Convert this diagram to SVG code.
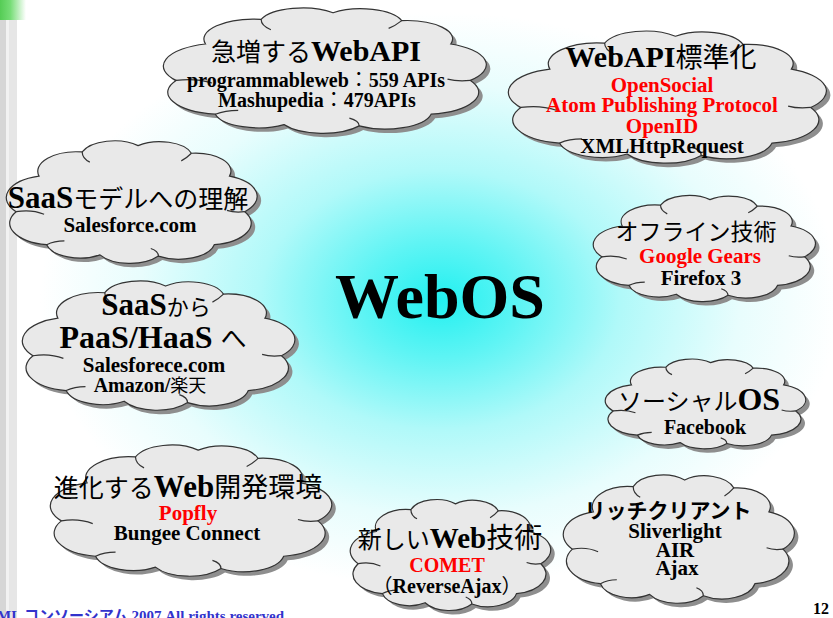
<svg xmlns="http://www.w3.org/2000/svg" xmlns:xlink="http://www.w3.org/1999/xlink" width="833" height="618" viewBox="0 0 833 618">
<style>
svg{font-size:21px}
.sh{fill:#8e8e8e;stroke:none}
.cl{fill:#e9e9e9;stroke:#333;stroke-width:1.2}
.ci{fill:none;stroke:#333;stroke-width:1.2}
text{font-family:"Liberation Serif","Times New Roman",serif;font-weight:bold;fill:#000;text-anchor:middle}
.jp{font-family:"Noto Sans CJK JP","Noto Sans CJK SC",sans-serif;font-weight:normal}
.jb{font-family:"Noto Sans CJK JP","Noto Sans CJK SC",sans-serif;font-weight:bold}
.r{fill:#ff0000}
text.ft{fill:#3333cc;text-anchor:start}
</style>
<defs>
<radialGradient id="bg" gradientUnits="userSpaceOnUse" cx="440" cy="300" r="400" gradientTransform="translate(440 300) scale(1 0.72) translate(-440 -300)">
<stop offset="0" stop-color="#22f0f0"/>
<stop offset="0.2" stop-color="#5ef4f4"/>
<stop offset="0.45" stop-color="#b0f9f9"/>
<stop offset="0.75" stop-color="#e8fdfd"/>
<stop offset="1" stop-color="#ffffff"/>
</radialGradient>
<linearGradient id="gr" x1="0" y1="0" x2="1" y2="0">
<stop offset="0" stop-color="#55cc55"/>
<stop offset="0.4" stop-color="#77dd77"/>
<stop offset="1" stop-color="#ffffff"/>
</linearGradient>
<path id="cb" vector-effect="non-scaling-stroke" d="M4,58 A17.6,17.6 0 0 1 13,30 A15.3,15.3 0 0 1 30,11 A13.5,13.5 0 0 1 52,6 A13.1,13.1 0 0 1 73,12 A14.1,14.1 0 0 1 88,30 A17.2,17.2 0 0 1 94,58 A17.2,17.2 0 0 1 82,84 A14.3,14.3 0 0 1 60,93 A13.8,13.8 0 0 1 37,92 A13.5,13.5 0 0 1 16,84 A17.2,17.2 0 0 1 4,58 Z"/>
<path id="ci" vector-effect="non-scaling-stroke" d="M4,58 Q10,56 15,60 M30,11 Q30,16 33,19 M73,12 Q71,16 69,18 M94,58 Q90,59 87,57 M60,93 Q60,89 57,87 M16,84 Q19,81 23,81"/>
</defs>
<rect x="0" y="0" width="833" height="618" fill="#ffffff"/>
<rect x="0" y="0" width="833" height="618" fill="url(#bg)"/>
<rect x="0" y="0" width="26" height="20" fill="url(#gr)"/>
<rect x="0" y="20" width="6" height="598" fill="#d6d6d6"/>
<rect x="6" y="20" width="3" height="598" fill="#f2f2f2"/>
<rect x="9" y="20" width="8" height="598" fill="#e6e6e6"/>

<g id="connectors"></g>

<g id="n-webapi">
<use href="#cb" class="sh" transform="translate(167,9) scale(3.27,1.3)"/>
<use href="#cb" class="cl" transform="translate(163,5) scale(3.27,1.3)"/>
<use href="#ci" class="ci" transform="translate(163,5) scale(3.27,1.3)"/>
<text x="316" y="61"><tspan class="jp" font-size="25">急増する</tspan><tspan font-size="30">WebAPI</tspan></text>
<text x="316" y="87" font-size="20">programmableweb<tspan class="jp">：</tspan>559 APIs</text>
<text x="317" y="107" font-size="20">Mashupedia<tspan class="jp">：</tspan>479APIs</text>
</g>

<g id="n-std">
<use href="#cb" class="sh" transform="translate(512,32) scale(3.22,1.37)"/>
<use href="#cb" class="cl" transform="translate(508,28) scale(3.22,1.37)"/>
<use href="#ci" class="ci" transform="translate(508,28) scale(3.22,1.37)"/>
<text x="661" y="67"><tspan font-size="30">WebAPI</tspan><tspan class="jp" font-size="27">標準化</tspan></text>
<text x="662" y="92" class="r">OpenSocial</text>
<text x="662" y="112" class="r">Atom Publishing Protocol</text>
<text x="662" y="133" class="r">OpenID</text>
<text x="662" y="153">XMLHttpRequest</text>
</g>

<g id="n-saas">
<use href="#cb" class="sh" transform="translate(10,142) scale(2.54,1.27)"/>
<use href="#cb" class="cl" transform="translate(6,138) scale(2.54,1.27)"/>
<use href="#ci" class="ci" transform="translate(6,138) scale(2.54,1.27)"/>
<text x="128" y="208"><tspan font-size="31">SaaS</tspan><tspan class="jp" font-size="25">モデルへの理解</tspan></text>
<text x="130" y="232">Salesforce.com</text>
</g>

<g id="n-paas">
<use href="#cb" class="sh" transform="translate(26,282) scale(2.76,1.34)"/>
<use href="#cb" class="cl" transform="translate(22,278) scale(2.76,1.34)"/>
<use href="#ci" class="ci" transform="translate(22,278) scale(2.76,1.34)"/>
<text x="156" y="315"><tspan font-size="31">SaaS</tspan><tspan class="jp" font-size="22">から</tspan></text>
<text x="153" y="348"><tspan font-size="32">PaaS/HaaS </tspan><tspan class="jp" font-size="26">へ</tspan></text>
<text x="154" y="372">Salesforece.com</text>
<text x="150" y="392" font-size="20">Amazon/<tspan class="jp" font-size="18">楽天</tspan></text>
</g>

<g id="n-offline">
<use href="#cb" class="sh" transform="translate(597,197) scale(2.25,1.1)"/>
<use href="#cb" class="cl" transform="translate(593,193) scale(2.25,1.1)"/>
<use href="#ci" class="ci" transform="translate(593,193) scale(2.25,1.1)"/>
<text x="696" y="240" class="jp" font-size="23">オフライン技術</text>
<text x="700" y="263" class="r">Google Gears</text>
<text x="701" y="285">Firefox 3</text>
</g>

<g id="n-social">
<use href="#cb" class="sh" transform="translate(609,361) scale(2.03,0.93)"/>
<use href="#cb" class="cl" transform="translate(605,357) scale(2.03,0.93)"/>
<use href="#ci" class="ci" transform="translate(605,357) scale(2.03,0.93)"/>
<text x="699" y="410"><tspan class="jp" font-size="24">ソーシャル</tspan><tspan font-size="32">OS</tspan></text>
<text x="705" y="434" font-size="20">Facebook</text>
</g>

<g id="n-devenv">
<use href="#cb" class="sh" transform="translate(54,446) scale(2.85,1.36)"/>
<use href="#cb" class="cl" transform="translate(50,442) scale(2.85,1.36)"/>
<use href="#ci" class="ci" transform="translate(50,442) scale(2.85,1.36)"/>
<text x="188" y="497"><tspan class="jp" font-size="25">進化する</tspan><tspan font-size="31">Web</tspan><tspan class="jp" font-size="27">開発環境</tspan></text>
<text x="188" y="520" class="r">Popfly</text>
<text x="187" y="540">Bungee Connect</text>
</g>

<g id="n-newweb">
<use href="#cb" class="sh" transform="translate(354,501) scale(2.03,1.15)"/>
<use href="#cb" class="cl" transform="translate(350,497) scale(2.03,1.15)"/>
<use href="#ci" class="ci" transform="translate(350,497) scale(2.03,1.15)"/>
<text x="450" y="548"><tspan class="jp" font-size="24">新しい</tspan><tspan font-size="29">Web</tspan><tspan class="jp" font-size="28">技術</tspan></text>
<text x="447" y="572" class="r" font-size="20">COMET</text>
<text x="447" y="593" font-size="20"><tspan class="jp">（</tspan>ReverseAjax<tspan class="jp">）</tspan></text>
</g>

<g id="n-rich">
<use href="#cb" class="sh" transform="translate(567,476) scale(2.34,1.33)"/>
<use href="#cb" class="cl" transform="translate(563,472) scale(2.34,1.33)"/>
<use href="#ci" class="ci" transform="translate(563,472) scale(2.34,1.33)"/>
<text x="668" y="518" class="jb" font-size="21">リッチクリアント</text>
<text x="675" y="538">Sliverlight</text>
<text x="675" y="557">AIR</text>
<text x="677" y="575">Ajax</text>
</g>

<g id="n-webos">
<text x="440" y="318" font-size="64">WebOS</text>
</g>

<text x="-3" y="621" class="ft" font-size="15">ML <tspan class="jb">コンソーシアム</tspan> 2007 All rights reserved</text>
<text x="829" y="614" font-size="16" style="text-anchor:end">12</text>
</svg>
